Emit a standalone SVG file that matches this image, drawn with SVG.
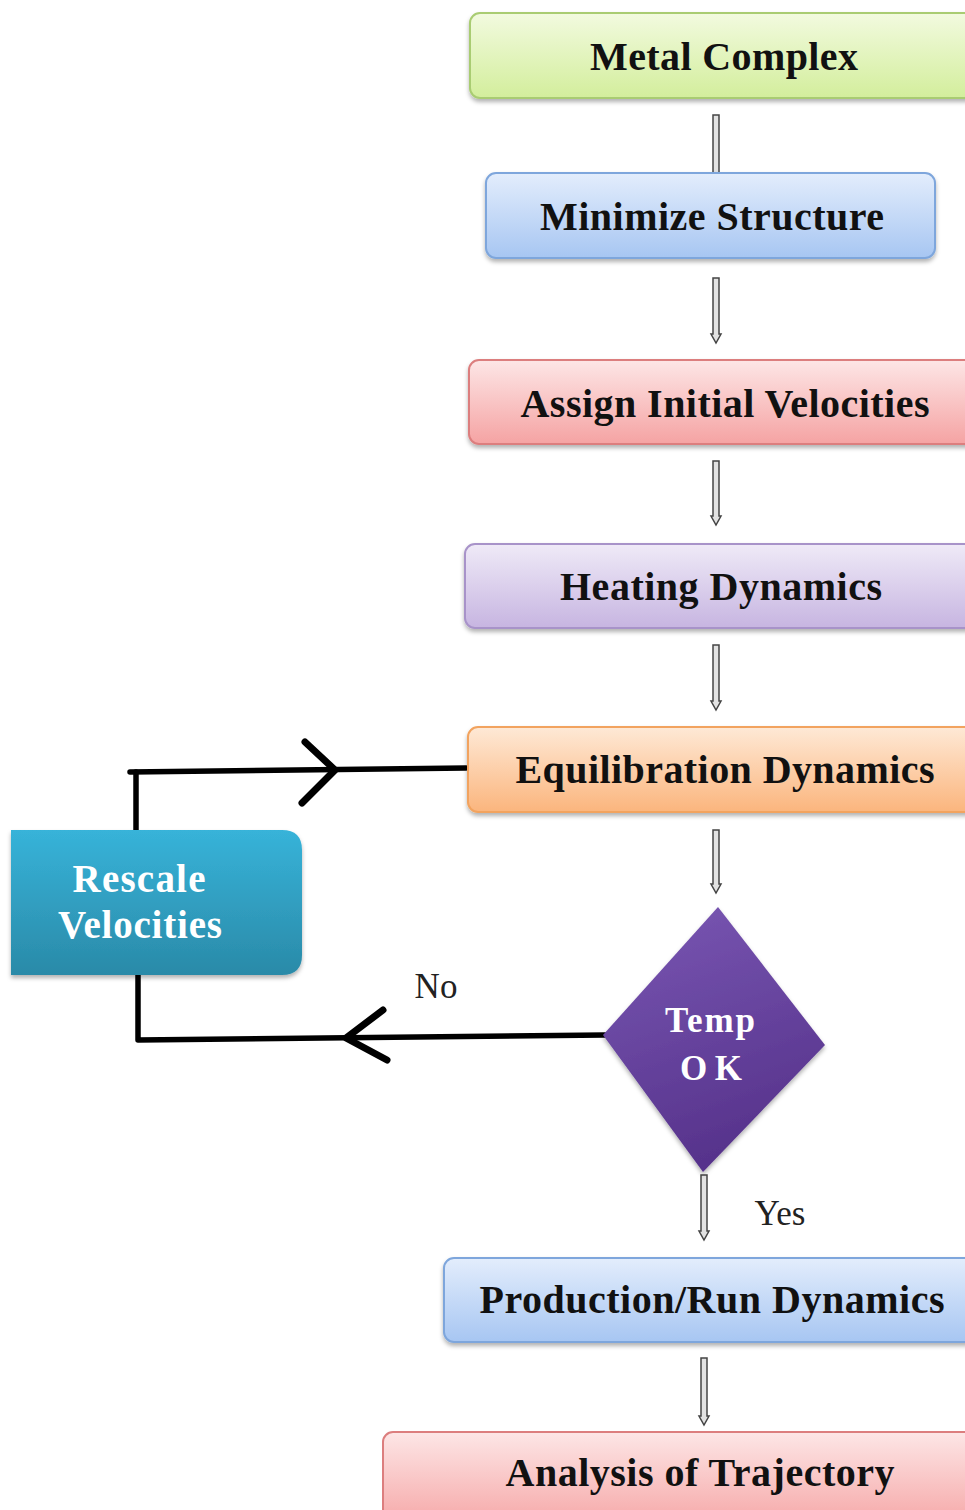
<svg xmlns="http://www.w3.org/2000/svg" width="965" height="1510" viewBox="0 0 965 1510">
<defs>
<linearGradient id="gGreen" x1="0" y1="0" x2="0" y2="1"><stop offset="0" stop-color="#f2fadf"/><stop offset="1" stop-color="#d3ee9c"/></linearGradient>
<linearGradient id="gBlue" x1="0" y1="0" x2="0" y2="1"><stop offset="0" stop-color="#e3edfc"/><stop offset="1" stop-color="#a7c6f2"/></linearGradient>
<linearGradient id="gRed" x1="0" y1="0" x2="0" y2="1"><stop offset="0" stop-color="#fde6e6"/><stop offset="1" stop-color="#f5a3a3"/></linearGradient>
<linearGradient id="gPurple" x1="0" y1="0" x2="0" y2="1"><stop offset="0" stop-color="#efeaf7"/><stop offset="1" stop-color="#c7b5e1"/></linearGradient>
<linearGradient id="gOrange" x1="0" y1="0" x2="0" y2="1"><stop offset="0" stop-color="#fee9d6"/><stop offset="1" stop-color="#fbb57d"/></linearGradient>
<linearGradient id="gTeal" x1="0" y1="0" x2="0" y2="1"><stop offset="0" stop-color="#37b3d9"/><stop offset="1" stop-color="#2a8aa8"/></linearGradient>
<linearGradient id="gDiamond" x1="0" y1="0" x2="0.3" y2="1"><stop offset="0" stop-color="#7a58b4"/><stop offset="1" stop-color="#57338c"/></linearGradient>
<filter id="sh" x="-5%" y="-10%" width="110%" height="130%"><feDropShadow dx="0" dy="3" stdDeviation="2" flood-color="#000" flood-opacity="0.3"/></filter>
</defs>
<style>
.lbl{font-family:"Liberation Serif","Times New Roman",serif;font-weight:bold;font-size:40px;fill:#111;text-anchor:middle}
.wl{font-family:"Liberation Serif","Times New Roman",serif;font-weight:bold;font-size:39px;fill:#fff;text-anchor:middle}
.dl{font-family:"Liberation Serif","Times New Roman",serif;font-weight:bold;font-size:35px;fill:#fff;text-anchor:middle}
.tl{font-family:"Liberation Serif","Times New Roman",serif;font-size:35px;fill:#222;text-anchor:middle}
.garrow{fill:#e2e2e2;stroke:#444;stroke-width:1.5}
.loop{fill:none;stroke:#000;stroke-width:5.5;stroke-linecap:round;stroke-linejoin:round}
.chev{fill:none;stroke:#000;stroke-width:7;stroke-linecap:round;stroke-linejoin:round}
</style>
<rect width="965" height="1510" fill="#fff"/>
<g id="connectors">
<path class="garrow" d="M713,115 L719,115 L719,175 L713,175 Z"/>
<path class="garrow" d="M713,278 L719,278 L719,334 L721,334 L716,343 L711,334 L713,334 Z"/>
<path class="garrow" d="M713,461 L719,461 L719,516 L721,516 L716,525 L711,516 L713,516 Z"/>
<path class="garrow" d="M713,645 L719,645 L719,701 L721,701 L716,710 L711,701 L713,701 Z"/>
<path class="garrow" d="M713,830 L719,830 L719,884 L721,884 L716,893 L711,884 L713,884 Z"/>
<path class="garrow" d="M701,1175 L707,1175 L707,1231 L709,1231 L704,1240 L699,1231 L701,1231 Z"/>
<path class="garrow" d="M701,1358 L707,1358 L707,1416 L709,1416 L704,1425 L699,1416 L701,1416 Z"/>
<path class="loop" d="M136,830 L136,772"/>
<path class="loop" d="M130,772 L466,768"/>
<path class="chev" d="M305,742 L335,770 L302,803"/>
<path class="loop" d="M138,975 L138,1040 L605,1035"/>
<path class="chev" d="M383,1010 L346,1038 L387,1060"/>
<text class="tl" x="436" y="998">No</text>
<text class="tl" x="780" y="1225">Yes</text>
</g>
<g id="metal-complex">
<rect x="470" y="13" width="520" height="85" rx="10" fill="url(#gGreen)" stroke="#a9cc72" stroke-width="2" filter="url(#sh)"/>
<text class="lbl" x="724" y="70" textLength="268" lengthAdjust="spacing">Metal Complex</text>
</g>
<g id="minimize-structure">
<rect x="486" y="173" width="449" height="85" rx="10" fill="url(#gBlue)" stroke="#7ea6dc" stroke-width="2" filter="url(#sh)"/>
<text class="lbl" x="712" y="230" textLength="344" lengthAdjust="spacing">Minimize Structure</text>
</g>
<g id="assign-velocities">
<rect x="469" y="360" width="520" height="84" rx="10" fill="url(#gRed)" stroke="#dc7e7e" stroke-width="2" filter="url(#sh)"/>
<text class="lbl" x="725" y="417" textLength="409" lengthAdjust="spacing">Assign Initial Velocities</text>
</g>
<g id="heating-dynamics">
<rect x="465" y="544" width="520" height="84" rx="10" fill="url(#gPurple)" stroke="#a893c9" stroke-width="2" filter="url(#sh)"/>
<text class="lbl" x="721" y="600" textLength="322" lengthAdjust="spacing">Heating Dynamics</text>
</g>
<g id="equilibration-dynamics">
<rect x="468" y="727" width="520" height="85" rx="10" fill="url(#gOrange)" stroke="#f2a35e" stroke-width="2" filter="url(#sh)"/>
<text class="lbl" x="725" y="783" textLength="419" lengthAdjust="spacing">Equilibration Dynamics</text>
</g>
<g id="rescale-velocities">
<path d="M11,830 L282,830 Q302,830 302,850 L302,955 Q302,975 282,975 L11,975 Z" fill="url(#gTeal)" filter="url(#sh)"/>
<text class="wl" x="139" y="892" textLength="133" lengthAdjust="spacing">Rescale</text>
<text class="wl" x="140" y="938" textLength="164" lengthAdjust="spacing">Velocities</text>
</g>
<g id="temp-ok">
<path d="M718,907 L825,1045 L703,1172 L603,1035 Z" fill="url(#gDiamond)" filter="url(#sh)"/>
<text class="dl" x="710" y="1032" textLength="90" lengthAdjust="spacing">Temp</text>
<text class="dl" x="711" y="1080" textLength="62" lengthAdjust="spacing">OK</text>
</g>
<g id="production-dynamics">
<rect x="444" y="1258" width="545" height="84" rx="10" fill="url(#gBlue)" stroke="#7ea6dc" stroke-width="2" filter="url(#sh)"/>
<text class="lbl" x="712" y="1313" textLength="465" lengthAdjust="spacing">Production/Run Dynamics</text>
</g>
<g id="analysis-trajectory">
<rect x="383" y="1432" width="610" height="100" rx="10" fill="url(#gRed)" stroke="#dc7e7e" stroke-width="2"/>
<text class="lbl" x="700" y="1486" textLength="389" lengthAdjust="spacing">Analysis of Trajectory</text>
</g>
</svg>
